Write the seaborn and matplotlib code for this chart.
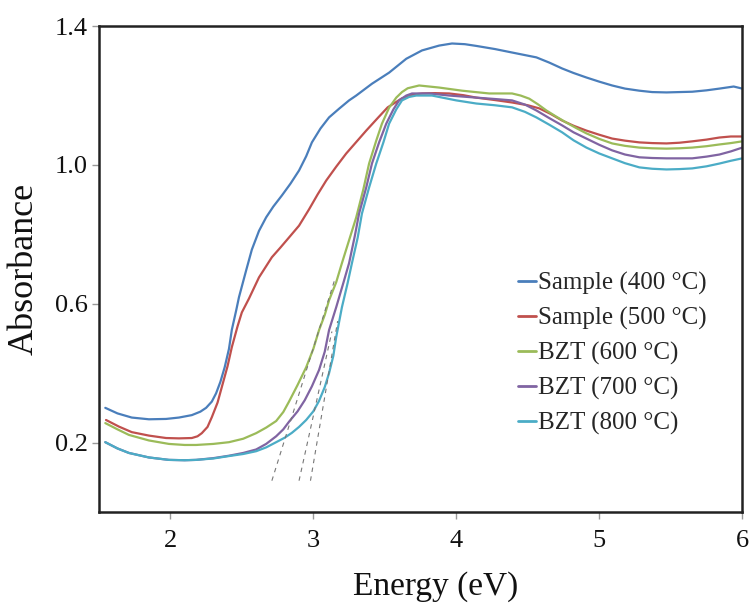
import matplotlib
matplotlib.use("Agg")
import matplotlib.pyplot as plt
import seaborn as sns
import pandas as pd

# ---- data ----
labels = ["Sample (400 °C)", "Sample (500 °C)", "BZT (600 °C)", "BZT (700 °C)", "BZT (800 °C)"]
colors = ["#4A7EBB", "#C0504D", "#9BBB59", "#8064A2", "#4BACC6"]

x_400 = [1.545, 1.63, 1.73, 1.85, 1.97, 2.06, 2.15, 2.21, 2.25, 2.29, 2.32, 2.35, 2.38, 2.41, 2.43,
         2.46, 2.48, 2.53, 2.57, 2.62, 2.67, 2.72, 2.78, 2.84, 2.90, 2.95, 2.99, 3.05, 3.11, 3.18,
         3.25, 3.30, 3.41, 3.53, 3.65, 3.76, 3.88, 3.97, 4.06, 4.14, 4.27, 4.39, 4.56, 4.65, 4.74,
         4.82, 4.91, 5.00, 5.09, 5.18, 5.28, 5.37, 5.47, 5.56, 5.65, 5.75, 5.84, 5.94, 6.0]
y_400 = [0.300, 0.284, 0.272, 0.267, 0.268, 0.272, 0.279, 0.289, 0.300, 0.318, 0.342, 0.375, 0.417, 0.470, 0.525,
         0.580, 0.619, 0.696, 0.756, 0.810, 0.849, 0.880, 0.912, 0.946, 0.984, 1.025, 1.065, 1.105, 1.137, 1.162,
         1.186, 1.200, 1.234, 1.266, 1.306, 1.330, 1.344, 1.350, 1.348, 1.343, 1.334, 1.324, 1.310, 1.295, 1.278,
         1.265, 1.252, 1.240, 1.229, 1.220, 1.214, 1.210, 1.209, 1.210, 1.211, 1.215, 1.220, 1.226, 1.220]

x_500 = [1.55, 1.64, 1.73, 1.85, 1.97, 2.06, 2.15, 2.19, 2.22, 2.26, 2.29, 2.33, 2.36, 2.40, 2.43,
         2.47, 2.50, 2.55, 2.62, 2.71, 2.77, 2.83, 2.90, 2.97, 3.03, 3.09, 3.16, 3.23, 3.30, 3.37,
         3.45, 3.52, 3.62, 3.70, 3.76, 3.85, 3.95, 4.05, 4.14, 4.27, 4.39, 4.50, 4.58, 4.66, 4.74,
         4.82, 4.91, 5.00, 5.09, 5.18, 5.28, 5.37, 5.47, 5.56, 5.65, 5.75, 5.84, 5.92, 6.0]
y_500 = [0.265, 0.246, 0.230, 0.220, 0.213, 0.212, 0.213, 0.218, 0.227, 0.245, 0.273, 0.315, 0.360, 0.420, 0.475,
         0.535, 0.575, 0.615, 0.676, 0.734, 0.762, 0.791, 0.825, 0.872, 0.915, 0.955, 0.995, 1.033, 1.066, 1.099,
         1.135, 1.166, 1.192, 1.203, 1.206, 1.207, 1.206, 1.201, 1.194, 1.187, 1.180, 1.172, 1.163, 1.147, 1.128,
         1.113, 1.099, 1.087, 1.076, 1.070, 1.065, 1.063, 1.062, 1.064, 1.068, 1.073, 1.079, 1.082, 1.082]

x_600 = [1.545, 1.63, 1.71, 1.85, 1.99, 2.10, 2.18, 2.30, 2.41, 2.51, 2.60, 2.67, 2.74, 2.79, 2.83,
         2.89, 2.95, 3.00, 3.04, 3.08, 3.11, 3.16, 3.20, 3.25, 3.30, 3.35, 3.39, 3.44, 3.48, 3.53,
         3.58, 3.62, 3.66, 3.74, 3.88, 4.04, 4.23, 4.39, 4.45, 4.51, 4.57, 4.63, 4.70, 4.77, 4.84,
         4.91, 5.00, 5.09, 5.18, 5.28, 5.37, 5.47, 5.56, 5.65, 5.75, 5.84, 5.92, 6.0]
y_600 = [0.256, 0.238, 0.222, 0.206, 0.196, 0.193, 0.193, 0.196, 0.201, 0.211, 0.227, 0.243, 0.262, 0.288, 0.318,
         0.366, 0.417, 0.470, 0.524, 0.568, 0.610, 0.662, 0.717, 0.783, 0.849, 0.930, 1.004, 1.070, 1.119, 1.165,
         1.194, 1.210, 1.221, 1.229, 1.223, 1.214, 1.206, 1.206, 1.200, 1.191, 1.175, 1.157, 1.139, 1.122, 1.106,
         1.091, 1.075, 1.062, 1.055, 1.050, 1.048, 1.047, 1.048, 1.050, 1.054, 1.059, 1.063, 1.068]

x_700 = [1.545, 1.63, 1.71, 1.85, 1.99, 2.10, 2.18, 2.30, 2.41, 2.51, 2.60, 2.67, 2.74, 2.79, 2.83,
         2.89, 2.94, 2.99, 3.04, 3.08, 3.11, 3.16, 3.21, 3.25, 3.29, 3.32, 3.37, 3.41, 3.46, 3.51,
         3.56, 3.60, 3.65, 3.69, 3.81, 3.95, 4.14, 4.27, 4.39, 4.48, 4.56, 4.65, 4.74, 4.82, 4.91,
         5.00, 5.09, 5.18, 5.28, 5.37, 5.47, 5.56, 5.65, 5.75, 5.84, 5.92, 6.0]
y_700 = [0.201, 0.183, 0.170, 0.157, 0.150, 0.149, 0.150, 0.155, 0.162, 0.170, 0.180, 0.196, 0.218, 0.238, 0.260,
         0.290, 0.322, 0.362, 0.409, 0.462, 0.524, 0.590, 0.660, 0.717, 0.795, 0.860, 0.935, 1.004, 1.065, 1.119,
         1.160, 1.186, 1.200, 1.206, 1.206, 1.200, 1.194, 1.190, 1.186, 1.174, 1.157, 1.135, 1.114, 1.094, 1.076,
         1.058, 1.042, 1.030, 1.022, 1.020, 1.019, 1.019, 1.019, 1.024, 1.030, 1.039, 1.050]

x_800 = [1.545, 1.63, 1.71, 1.85, 1.99, 2.10, 2.18, 2.30, 2.41, 2.51, 2.60, 2.67, 2.74, 2.80, 2.85,
         2.90, 2.95, 3.00, 3.04, 3.08, 3.11, 3.14, 3.16, 3.20, 3.24, 3.27, 3.31, 3.34, 3.39, 3.44,
         3.49, 3.53, 3.58, 3.62, 3.67, 3.72, 3.83, 4.00, 4.14, 4.27, 4.39, 4.48, 4.56, 4.65, 4.74,
         4.82, 4.91, 5.00, 5.09, 5.18, 5.28, 5.37, 5.47, 5.56, 5.65, 5.75, 5.84, 5.92, 6.0]
y_800 = [0.201, 0.183, 0.170, 0.157, 0.150, 0.149, 0.150, 0.154, 0.161, 0.167, 0.175, 0.186, 0.201, 0.214, 0.228,
         0.245, 0.265, 0.290, 0.320, 0.360, 0.400, 0.450, 0.504, 0.590, 0.660, 0.717, 0.790, 0.860, 0.935, 1.004,
         1.065, 1.119, 1.160, 1.186, 1.196, 1.200, 1.200, 1.186, 1.177, 1.172, 1.166, 1.153, 1.137, 1.116, 1.094,
         1.071, 1.050, 1.033, 1.019, 1.005, 0.993, 0.989, 0.987, 0.988, 0.990, 0.996, 1.004, 1.012, 1.019]

# tangent (Tauc-style) extrapolation lines: start / end points
tan_x = [[2.71, 3.15], [2.90, 3.13], [2.98, 3.17]]
tan_y = [[0.09, 0.67], [0.09, 0.52], [0.09, 0.55]]

xs = [x_400, x_500, x_600, x_700, x_800]
ys = [y_400, y_500, y_600, y_700, y_800]

frames = []
for lab, xx, yy in zip(labels, xs, ys):
    frames.append(pd.DataFrame({"Energy": xx, "Absorbance": yy, "series": lab}))
df = pd.concat(frames, ignore_index=True)

sns.set_theme(style="white")
plt.rcParams["font.family"] = ["Liberation Serif", "DejaVu Serif"]

fig = plt.figure(figsize=(7.49, 6.08), dpi=100)
ax = fig.add_axes([0.132, 0.158, 0.859, 0.799])

sns.lineplot(data=df, x="Energy", y="Absorbance", hue="series", hue_order=labels,
             palette=colors, estimator=None, sort=False, linewidth=1.6, ax=ax)

for tx, ty in zip(tan_x, tan_y):
    ax.plot(tx, ty, color="#777777", linewidth=0.8, linestyle=(0, (4, 4)))

ax.set_xlim(1.5, 6.0)
ax.set_ylim(0.0, 1.4)
ax.set_xticks([2, 3, 4, 5, 6])
ax.set_yticks([0.2, 0.6, 1.0, 1.4])
ax.set_yticklabels(["0.2", "0.6", "1.0", "1.4"])
ax.tick_params(axis="both", which="major", direction="out", length=5, width=1,
               color="#999999", labelsize=19, labelcolor="#111111", pad=3,
               bottom=True, left=True)
ax.tick_params(axis="x", pad=8)

for sp in ax.spines.values():
    sp.set_color("#222222")
    sp.set_linewidth(1.8)
    sp.set_visible(True)

ax.set_xlabel("Energy (eV)", fontsize=24, color="#111111")
ax.xaxis.set_label_coords(0.524, -0.121, transform=ax.transAxes)
ax.xaxis.label.set_verticalalignment("top")
ax.set_ylabel("Absorbance", fontsize=26, labelpad=10, color="#111111")

leg = ax.legend(loc="upper left", bbox_to_anchor=(0.652, 0.494), frameon=False,
                fontsize=18, handlelength=0.7, handletextpad=0.1,
                labelspacing=0.475, borderaxespad=0, borderpad=0)
for line in leg.get_lines():
    line.set_linewidth(2.0)

fig.savefig("out.png", dpi=100)
